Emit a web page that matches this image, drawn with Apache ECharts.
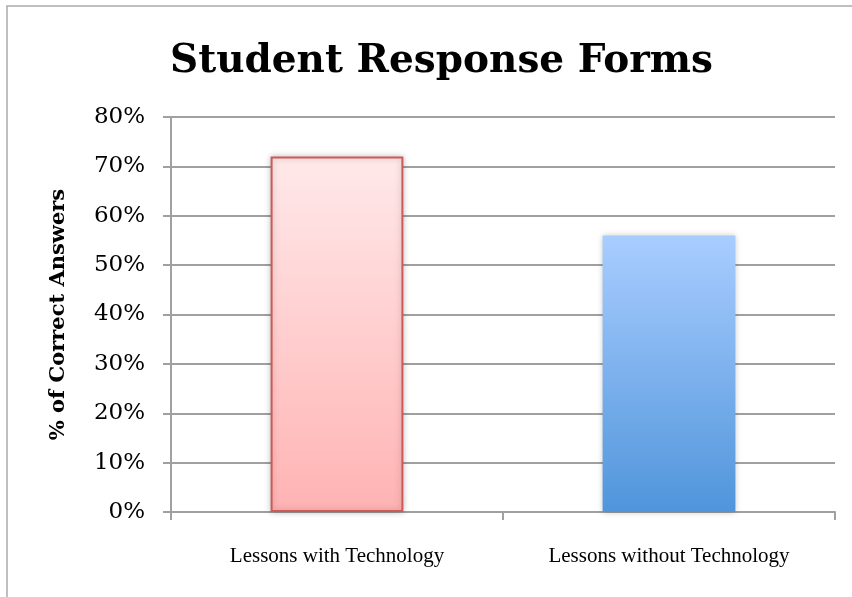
<!DOCTYPE html>
<html>
<head>
<meta charset="utf-8">
<script src="https://cdn.jsdelivr.net/npm/echarts@6/dist/echarts.min.js"></script>
<style>
  html, body { margin: 0; padding: 0; background: #fff; }
  #chart { width: 852px; height: 597px; }
</style>
</head>
<body>
<div id="chart"></div>
<script>
const categories = ['Lessons with Technology', 'Lessons without Technology']
const values = [72, 56]
const yTicks = [0, 10, 20, 30, 40, 50, 60, 70, 80]

const serif = '"Liberation Serif", serif'
const wideSerif = '"DejaVu Serif", serif'

const chart = echarts.init(document.getElementById('chart'))
chart.setOption({
  backgroundColor: '#fff',
  animation: false,
  graphic: [
    {
      type: 'rect',
      shape: { x: 7, y: 6, width: 900, height: 700 },
      style: { fill: 'none', stroke: '#aaaaaa', lineWidth: 1.5 }
    }
  ],
  title: {
    text: 'Student Response Forms',
    left: 165,
    top: 37,
    textStyle: {
      fontFamily: wideSerif,
      fontWeight: 'bold',
      fontSize: 39,
      color: '#000'
    }
  },
  grid: {
    left: 171,
    right: 17,
    top: 117,
    bottom: 85
  },
  xAxis: {
    type: 'category',
    data: categories,
    axisLine: { lineStyle: { color: '#a0a0a0', width: 2 } },
    axisTick: { show: true, length: 8, lineStyle: { color: '#a0a0a0', width: 2 } },
    axisLabel: {
      fontFamily: serif,
      fontSize: 21,
      color: '#000',
      margin: 34
    }
  },
  yAxis: {
    type: 'value',
    min: yTicks[0],
    max: yTicks[yTicks.length - 1],
    interval: 10,
    name: '% of Correct Answers',
    nameLocation: 'middle',
    nameGap: 102,
    nameTextStyle: {
      fontFamily: wideSerif,
      fontWeight: 'bold',
      fontSize: 21,
      color: '#000'
    },
    axisLine: { show: true, lineStyle: { color: '#a0a0a0', width: 2 } },
    axisTick: { show: true, length: 8, lineStyle: { color: '#a0a0a0', width: 2 } },
    splitLine: { lineStyle: { color: '#a0a0a0', width: 2 } },
    axisLabel: {
      fontFamily: wideSerif,
      fontSize: 23,
      color: '#000',
      margin: 26,
      formatter: '{value}%'
    }
  },
  series: [
    {
      type: 'bar',
      barWidth: '40%',
      data: [
        {
          value: values[0],
          itemStyle: {
            color: new echarts.graphic.LinearGradient(0, 0, 0, 1, [
              { offset: 0, color: '#ffe9ea' },
              { offset: 1, color: '#ffb3b3' }
            ]),
            borderColor: '#cc5a58',
            borderWidth: 2,
            shadowColor: 'rgba(0,0,0,0.25)',
            shadowBlur: 6
          }
        },
        {
          value: values[1],
          itemStyle: {
            color: new echarts.graphic.LinearGradient(0, 0, 0, 1, [
              { offset: 0, color: '#a9cdff' },
              { offset: 1, color: '#5095db' }
            ]),
            shadowColor: 'rgba(0,0,0,0.25)',
            shadowBlur: 6
          }
        }
      ]
    }
  ]
})
</script>
</body>
</html>
